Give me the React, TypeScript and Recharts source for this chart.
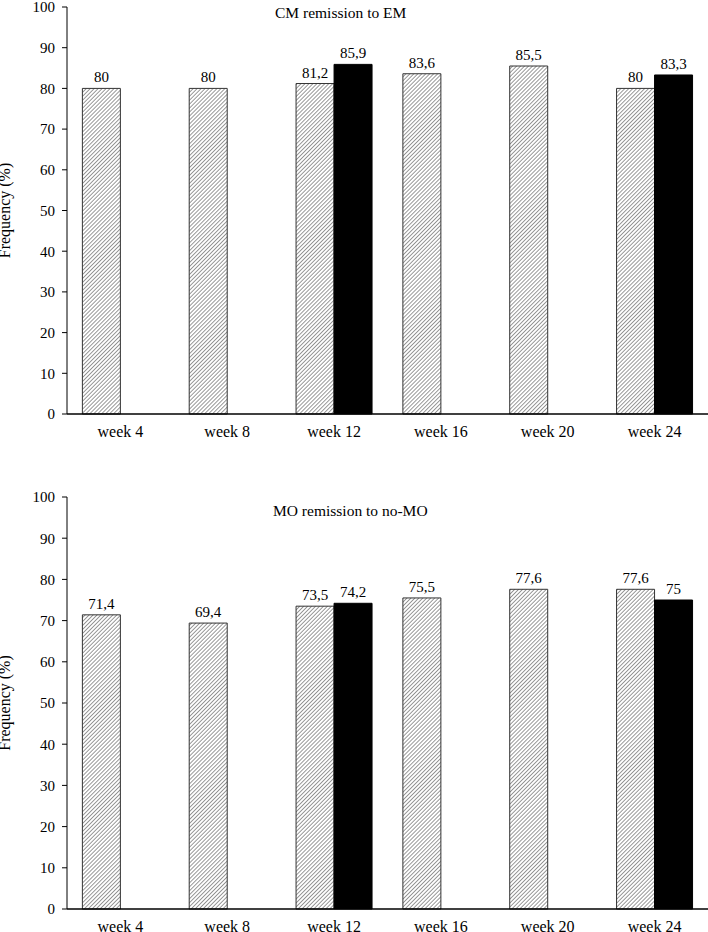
import React from 'react';
import { BarChart, Bar, XAxis, YAxis, LabelList, Label } from 'recharts';

const categories = ['week 4', 'week 8', 'week 12', 'week 16', 'week 20', 'week 24'];
const cmHatched = [80, 80, 81.2, 83.6, 85.5, 80];
const cmSolid: (number | null)[] = [null, null, 85.9, null, null, 83.3];
const moHatched = [71.4, 69.4, 73.5, 75.5, 77.6, 77.6];
const moSolid: (number | null)[] = [null, null, 74.2, null, null, 75];
const yTicks = [0, 10, 20, 30, 40, 50, 60, 70, 80, 90, 100];
const titles = ['CM remission to EM', 'MO remission to no-MO'];
const yLabel = 'Frequency (%)';

const FONT = "'Liberation Serif', 'Times New Roman', serif";

const fmt = (v: any) => (v === null || v === undefined ? '' : String(v).replace('.', ','));

const build = (a: number[], b: (number | null)[]) =>
  categories.map((c, i) => ({ name: c, a: a[i], b: b[i] }));

const YLab = (props: any) => {
  const vb = props.viewBox || {};
  const cy = vb.y + vb.height / 2;
  return (
    <text
      x={9.5}
      y={cy}
      transform={`rotate(-90, 9.5, ${cy})`}
      textAnchor="middle"
      fontSize={16}
      fill="#000"
    >
      {yLabel}
    </text>
  );
};

const Panel = ({ data, height, top, bottom }: any) => (
  <BarChart
    width={708}
    height={height}
    data={data}
    margin={{ top, right: 0, bottom, left: 0 }}
    barCategoryGap="14.4%"
    barGap={0}
  >
    <XAxis
      dataKey="name"
      axisLine={{ stroke: '#000', strokeWidth: 1.3 }}
      tickLine={false}
      tickSize={0}
      tickMargin={12}
      height={30}
      interval={0}
      tick={{ fontSize: 16, fill: '#000' }}
    />
    <YAxis
      width={67}
      domain={[0, 100]}
      ticks={yTicks}
      interval={0}
      axisLine={{ stroke: '#000', strokeWidth: 1 }}
      tickLine={{ stroke: '#000' }}
      tickSize={5}
      tickMargin={7}
      tick={{ fontSize: 15, fill: '#000' }}
    >
      <Label content={<YLab />} />
    </YAxis>
    <Bar dataKey="a" fill="url(#hatch)" stroke="#333" strokeWidth={1} isAnimationActive={false}>
      <LabelList dataKey="a" position="top" offset={6} formatter={fmt} style={{ fontSize: 15, fill: '#000' }} />
    </Bar>
    <Bar dataKey="b" fill="#000" stroke="#000" strokeWidth={1} isAnimationActive={false}>
      <LabelList dataKey="b" position="top" offset={6} formatter={fmt} style={{ fontSize: 15, fill: '#000' }} />
    </Bar>
  </BarChart>
);

export default function App() {
  return (
    <div style={{ position: 'absolute', left: 0, top: 0, width: 708, height: 932, background: '#fff', overflow: 'hidden', fontFamily: FONT }}>
      <style>{`svg text, svg tspan { font-family: ${FONT} !important; }`}</style>
      <svg width={0} height={0} style={{ position: 'absolute' }}>
        <defs>
          <pattern id="hatch" patternUnits="userSpaceOnUse" width={2.8} height={2.8} patternTransform="rotate(45)">
            <rect width={2.8} height={2.8} fill="#fff" />
            <line x1={0} y1={0} x2={0} y2={2.8} stroke="#444" strokeWidth={1.1} />
          </pattern>
        </defs>
      </svg>
      <div style={{ position: 'absolute', left: 0, top: 0 }}>
        <Panel data={build(cmHatched, cmSolid)} height={450} top={7} bottom={6} />
      </div>
      <div style={{ position: 'absolute', left: 0, top: 450 }}>
        <Panel data={build(moHatched, moSolid)} height={482} top={47} bottom={-7} />
      </div>
      <div style={{ position: 'absolute', left: 275, top: 4, fontSize: 15.5, color: '#000', whiteSpace: 'nowrap' }}>
        {titles[0]}
      </div>
      <div style={{ position: 'absolute', left: 273, top: 502, fontSize: 15.5, color: '#000', whiteSpace: 'nowrap' }}>
        {titles[1]}
      </div>
    </div>
  );
}
